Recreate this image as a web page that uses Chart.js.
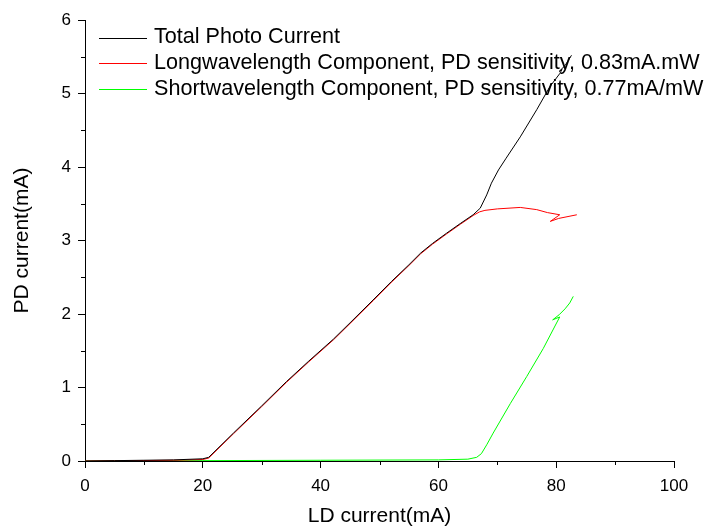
<!DOCTYPE html>
<html>
<head>
<meta charset="utf-8">
<script src="https://cdn.jsdelivr.net/npm/chart.js@4.4.1/dist/chart.umd.min.js"></script>
<style>
  body { margin: 0; background: #fff; }
  canvas { display: block; }
</style>
</head>
<body>
<canvas id="grafico" width="707" height="529"></canvas>
<script>
// valores (LD current em mA, PD current em mA)
const ldTotal = [0, 5, 10, 15, 20, 21, 25.2, 30, 34.2, 38, 42.2, 45, 48.9, 52, 55, 57, 59, 61.4, 63.7, 65.9, 67.1, 68.2, 69.0, 70.2, 71.5, 73.9, 76.7, 78.9, 80.6, 81.0, 80.5, 81.5, 82.6];
const pdTotal = [0, 0.005, 0.01, 0.015, 0.03, 0.05, 0.38, 0.75, 1.08, 1.36, 1.66, 1.88, 2.19, 2.44, 2.67, 2.83, 2.96, 3.10, 3.23, 3.35, 3.44, 3.62, 3.78, 3.96, 4.12, 4.41, 4.78, 5.09, 5.27, 5.33, 5.30, 5.38, 5.52];

const ldLong = [0, 5, 10, 15, 20, 21, 25.2, 30, 34.2, 38, 42.2, 45, 48.9, 52, 55, 57, 59, 61.4, 63.7, 65.9, 67.0, 67.9, 70, 73.9, 76.7, 78.5, 80.6, 79.0, 80.4, 83.5];
const pdLong = [0, 0.003, 0.006, 0.01, 0.02, 0.04, 0.37, 0.74, 1.07, 1.35, 1.65, 1.87, 2.18, 2.43, 2.66, 2.82, 2.95, 3.09, 3.22, 3.34, 3.39, 3.41, 3.43, 3.45, 3.42, 3.38, 3.35, 3.26, 3.30, 3.35];

const ldShort = [0, 20, 40, 60, 65, 66.5, 67.3, 68.2, 69.3, 72.2, 75, 77.8, 80.6, 79.4, 80.5, 81.5, 82.3, 82.9];
const pdShort = [0, 0.005, 0.01, 0.015, 0.025, 0.05, 0.1, 0.22, 0.38, 0.78, 1.15, 1.53, 1.96, 1.92, 1.99, 2.07, 2.15, 2.24];

const xTicks = [0, 20, 40, 60, 80, 100];
const yTicks = [0, 1, 2, 3, 4, 5, 6];

const fonte = '"Liberation Sans", Arial, sans-serif';

function pontos(xs, ys) {
    return xs.map((x, i) => ({ x: x, y: ys[i] }));
}

// ticks menores e legenda desenhados a mao
const extras = {
    id: 'extras',
    afterDraw(chart) {
        const ctx = chart.ctx;
        const xs = chart.scales.x;
        const ys = chart.scales.y;
        const area = chart.chartArea;
        ctx.save();
        ctx.strokeStyle = '#000';
        ctx.lineWidth = 1;
        ctx.beginPath();
        for (let v = 10; v < 100; v += 20) {
            const px = Math.round(xs.getPixelForValue(v)) + 0.5;
            ctx.moveTo(px, area.bottom);
            ctx.lineTo(px, area.bottom + 4);
        }
        for (let v = 0.5; v < 6; v += 1) {
            const py = Math.round(ys.getPixelForValue(v)) + 0.5;
            ctx.moveTo(area.left, py);
            ctx.lineTo(area.left - 4, py);
        }
        ctx.stroke();

        // legenda
        ctx.font = '21.6px ' + fonte;
        ctx.textBaseline = 'middle';
        ctx.fillStyle = '#000';
        chart.data.datasets.forEach((ds, i) => {
            const y = 37.5 + i * 25.7;
            ctx.strokeStyle = ds.borderColor;
            ctx.beginPath();
            ctx.moveTo(99, Math.round(y) + 0.5);
            ctx.lineTo(147, Math.round(y) + 0.5);
            ctx.stroke();
            ctx.fillText(ds.label, 154, y);
        });
        ctx.restore();
    }
};

const ctx = document.getElementById('grafico').getContext('2d');
new Chart(ctx, {
    type: 'scatter',
    data: {
        datasets: [{
            label: 'Total Photo Current',
            data: pontos(ldTotal, pdTotal),
            borderColor: '#000000',
            showLine: true
        }, {
            label: 'Longwavelength Component, PD sensitivity, 0.83mA.mW',
            data: pontos(ldLong, pdLong),
            borderColor: '#ff0000',
            showLine: true
        }, {
            label: 'Shortwavelength Component, PD sensitivity, 0.77mA/mW',
            data: pontos(ldShort, pdShort),
            borderColor: '#00ff00',
            showLine: true
        }]
    },
    options: {
        responsive: false,
        animation: false,
        devicePixelRatio: 1,
        layout: { padding: { left: 0, right: 33, top: 20, bottom: 0 } },
        elements: {
            point: { radius: 0, hoverRadius: 0 },
            line: { borderWidth: 1, tension: 0 }
        },
        plugins: {
            legend: { display: false },
            tooltip: { enabled: false }
        },
        scales: {
            x: {
                type: 'linear',
                min: 0,
                max: 100,
                afterBuildTicks: (s) => { s.ticks = xTicks.map(v => ({ value: v })); },
                afterFit: (s) => { s.height = 68; },
                ticks: { color: '#000', font: { family: fonte, size: 17 }, padding: 8, maxRotation: 0 },
                grid: { drawOnChartArea: false, drawTicks: true, tickLength: 7, color: '#000' },
                border: { color: '#000', width: 1 },
                title: { display: true, text: 'LD current(mA)', color: '#000', font: { family: fonte, size: 21 }, padding: { top: 4, bottom: 0 } }
            },
            y: {
                type: 'linear',
                min: 0,
                max: 6,
                afterBuildTicks: (s) => { s.ticks = yTicks.map(v => ({ value: v })); },
                afterFit: (s) => { s.width = 85; },
                ticks: { color: '#000', font: { family: fonte, size: 17 }, padding: 7 },
                grid: { drawOnChartArea: false, drawTicks: true, tickLength: 7, color: '#000' },
                border: { color: '#000', width: 1 },
                title: { display: true, text: 'PD current(mA)', color: '#000', font: { family: fonte, size: 21 }, padding: { top: 10, bottom: 0 } }
            }
        }
    },
    plugins: [extras]
});
</script>
</body>
</html>
